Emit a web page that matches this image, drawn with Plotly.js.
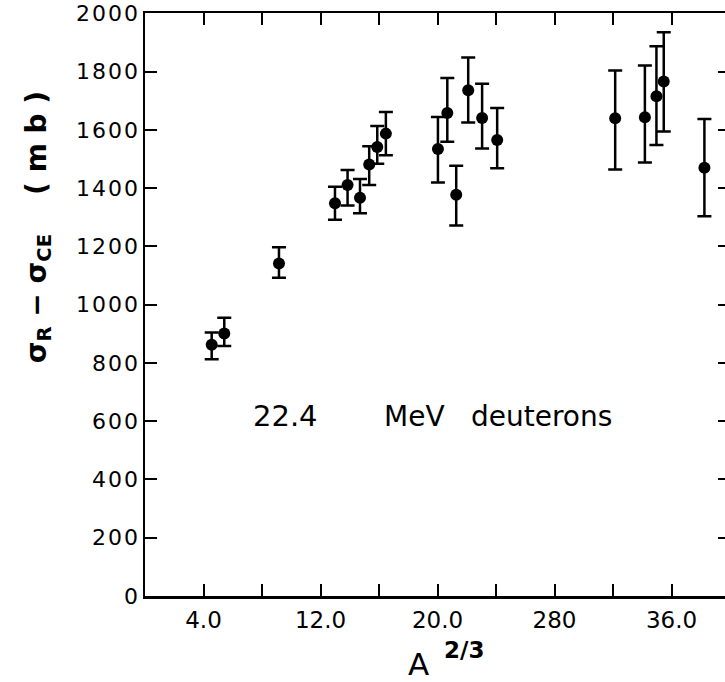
<!DOCTYPE html>
<html>
<head>
<meta charset="utf-8">
<script src="https://cdn.plot.ly/plotly-3.0.1.min.js"></script>
<style>
html, body { margin: 0; padding: 0; overflow: hidden; background: #fff; }
#chart { width: 735px; height: 682px; }
.ytick text { letter-spacing: 2px; }
</style>
</head>
<body>
<div id="chart"></div>
<script>
// A^(2/3) values
const xA23 = [4.56, 5.42, 9.16, 12.99, 13.85, 14.70, 15.33, 15.88, 16.47, 20.03,
              20.67, 21.28, 22.10, 23.05, 24.08, 32.15, 34.18, 34.97, 35.47, 38.25];
// sigma_R - sigma_CE (mb)
const sigma = [862, 901, 1141, 1348, 1411, 1367, 1481, 1541, 1587, 1534,
               1658, 1377, 1736, 1641, 1565, 1640, 1643, 1715, 1766, 1470];
const errPlus = [42, 54, 56, 57, 51, 64, 63, 72, 74, 110,
                 120, 100, 112, 117, 110, 164, 178, 172, 169, 167];
const errMinus = [49, 43, 49, 57, 71, 53, 70, 57, 74, 115,
                  99, 105, 111, 105, 97, 176, 155, 167, 172, 167];

const xTickVals = [4, 8, 12, 16, 20, 24, 28, 32, 36];
const xTickText = ["4.0", "", "12.0", "", "20.0", "", "280", "", "36.0"];
const yTickVals = [0, 200, 400, 600, 800, 1000, 1200, 1400, 1600, 1800, 2000];

const trace = {
  x: xA23, y: sigma, type: 'scatter', mode: 'markers',
  marker: { color: '#000', size: 12 },
  error_y: { type: 'data', symmetric: false, array: errPlus, arrayminus: errMinus,
             color: '#000', thickness: 2.5, width: 7 },
  hoverinfo: 'skip', showlegend: false
};

const tickFont = { family: 'DejaVu Sans', size: 23, color: '#000' };
const yTickFont = { family: 'DejaVu Sans', size: 22, color: '#000' };

const layout = {
  width: 735, height: 682,
  margin: { l: 145, r: 5, t: 13, b: 86 },
  paper_bgcolor: '#fff', plot_bgcolor: '#fff',
  showlegend: false,
  xaxis: {
    range: [0, 40], showgrid: false, zeroline: false,
    showline: true, linecolor: '#000', linewidth: 2.5, mirror: 'ticks',
    ticks: 'inside', ticklen: 12, tickwidth: 2, tickcolor: '#000',
    tickmode: 'array', tickvals: xTickVals, ticktext: xTickText,
    tickfont: tickFont, ticklabelstandoff: 2, ticklabeloverflow: 'allow'
  },
  yaxis: {
    range: [0, 2001], showgrid: false, zeroline: false,
    showline: true, linecolor: '#000', linewidth: 2.5, mirror: 'ticks',
    ticks: 'inside', ticklen: 12, tickwidth: 2, tickcolor: '#000',
    tickmode: 'array', tickvals: yTickVals,
    tickfont: yTickFont, ticklabelstandoff: -2, ticklabeloverflow: 'allow'
  },
  annotations: [
    { xref: 'paper', yref: 'paper', x: 0.182, y: 0.308, xanchor: 'left', yanchor: 'middle',
      text: '22.4', showarrow: false, font: { family: 'DejaVu Sans', size: 29, color: '#000' } },
    { xref: 'paper', yref: 'paper', x: 0.405, y: 0.308, xanchor: 'left', yanchor: 'middle',
      text: 'MeV', showarrow: false, font: { family: 'DejaVu Sans', size: 28, color: '#000' } },
    { xref: 'paper', yref: 'paper', x: 0.553, y: 0.308, xanchor: 'left', yanchor: 'middle',
      text: 'deuterons', showarrow: false, font: { family: 'DejaVu Sans', size: 28, color: '#000' } },
    { xref: 'paper', yref: 'paper', x: 0.4667, y: -0.116, xanchor: 'center', yanchor: 'middle',
      text: 'A', showarrow: false, font: { family: 'DejaVu Sans', size: 31, color: '#000' } },
    { xref: 'paper', yref: 'paper', x: 0.545, y: -0.0923, xanchor: 'center', yanchor: 'middle',
      text: '<b>2/3</b>', showarrow: false, font: { family: 'DejaVu Sans', size: 23, color: '#000' } },
    { xref: 'paper', yref: 'paper', x: -0.183, y: 0.634, xanchor: 'center', yanchor: 'middle',
      textangle: -90,
      text: '<b>σ<sub>R</sub> − σ<sub>CE</sub>    ( m b )</b>', showarrow: false,
      font: { family: 'DejaVu Sans', size: 28, color: '#000' } }
  ]
};

Plotly.newPlot('chart', [trace], layout, { displayModeBar: false, staticPlot: true });
</script>
</body>
</html>
